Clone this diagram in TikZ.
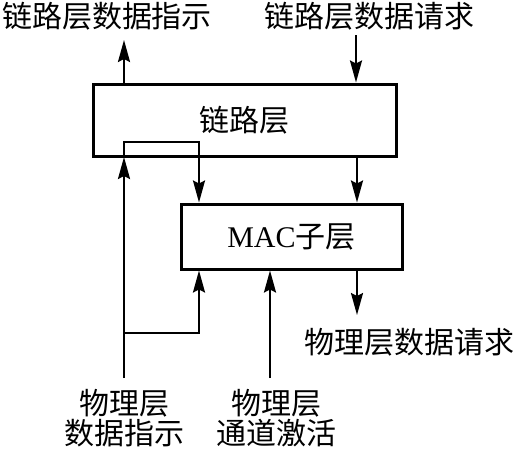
\documentclass[tikz,border=0pt]{standalone}
\usepackage{fontspec}
\setmainfont{Liberation Serif}
\newfontfamily\cjk{Noto Sans CJK SC}
\usetikzlibrary{arrows.meta}
\begin{document}
\begin{tikzpicture}[x=1pt,y=-1pt,
  box/.style={draw,line width=3pt,inner sep=0pt,font=\cjk\fontsize{30}{30}\selectfont},
  lbl/.style={inner sep=0pt,align=center,font=\cjk\fontsize{30}{30}\selectfont},
  wire/.style={line width=2.2pt},
  arr/.style={wire,-{Stealth[length=22pt,width=12pt,inset=3pt]}}]
\useasboundingbox (0,0) rectangle (517,458);
% boxes
\node[box,minimum width=303pt,minimum height=72pt] (link) at (244.5,120) {链路层};
\node[box,minimum width=221pt,minimum height=65pt] (mac) at (291.5,236.5) {{\rmfamily MAC}子层};
% labels
\node[lbl] (lli) at (107,16) {链路层数据指示};
\node[lbl] (lreq) at (369,16) {链路层数据请求};
\node[lbl] (preq) at (409,342) {物理层数据请求};
\node[lbl] (pdi) at (124,418) {物理层\\[0pt]数据指示};
\node[lbl] (pca) at (276,418) {物理层\\[0pt]通道激活};
% coordinates
\coordinate (t1) at (124,40);
\coordinate (t2) at (356,35);
\coordinate (xr) at (357,0);
\coordinate (rend) at (357,315);
\coordinate (pa) at (124,378);
\coordinate (k0) at (124,157);
\coordinate (k1) at (124,142);
\coordinate (k2) at (199,142);
\coordinate (k3) at (124,333);
\coordinate (k4) at (199,333);
\coordinate (pb) at (270,378);
% connectors
\draw[arr] (link.north -| t1) -- (t1);
\draw[arr] (t2) -- (link.north -| t2);
\draw[arr] (link.south -| xr) -- (mac.north -| xr);
\draw[arr] (mac.south -| xr) -- (rend);
\draw[arr] (pa) -- (k0);
\draw[arr] (k0) -- (k1) -- (k2) -- (mac.north -| k2);
\draw[arr] (k3) -- (k4) -- (mac.south -| k4);
\draw[arr] (pb) -- (mac.south -| pb);
\end{tikzpicture}
\end{document}
